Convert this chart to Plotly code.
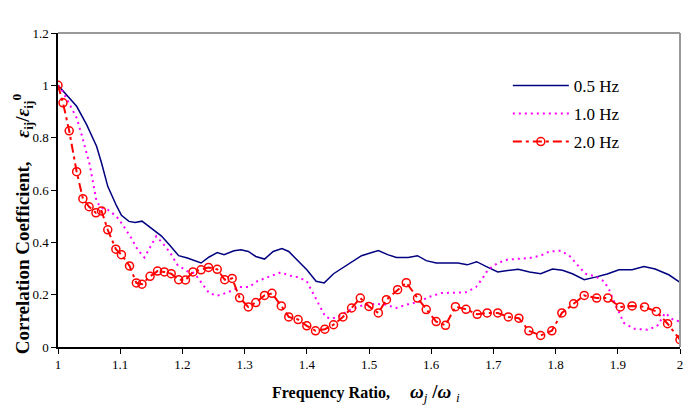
import plotly.graph_objects as go

# ---- data ----
x_05 = [1.000, 1.030, 1.046, 1.062, 1.070, 1.080, 1.094, 1.102, 1.114, 1.124, 1.135, 1.150, 1.166,
        1.179, 1.194, 1.208, 1.230, 1.243, 1.256, 1.267, 1.283, 1.294, 1.306, 1.318, 1.332, 1.346,
        1.360, 1.371, 1.387, 1.400, 1.415, 1.428, 1.443, 1.458, 1.472, 1.488, 1.502, 1.515, 1.530,
        1.544, 1.563, 1.578, 1.592, 1.608, 1.627, 1.643, 1.658, 1.673, 1.688, 1.707, 1.723, 1.740,
        1.758, 1.776, 1.795, 1.811, 1.827, 1.846, 1.864, 1.883, 1.902, 1.923, 1.942, 1.960, 1.982, 2.000]
y_05 = [1.000, 0.920, 0.850, 0.767, 0.703, 0.614, 0.540, 0.503, 0.480, 0.476, 0.481, 0.455, 0.425,
        0.391, 0.349, 0.340, 0.321, 0.344, 0.361, 0.353, 0.368, 0.372, 0.365, 0.346, 0.336, 0.365,
        0.376, 0.365, 0.327, 0.295, 0.251, 0.245, 0.280, 0.302, 0.323, 0.349, 0.359, 0.369, 0.353,
        0.342, 0.342, 0.349, 0.330, 0.321, 0.321, 0.321, 0.314, 0.326, 0.308, 0.287, 0.292, 0.297,
        0.287, 0.280, 0.298, 0.293, 0.280, 0.257, 0.267, 0.279, 0.295, 0.295, 0.308, 0.298, 0.276, 0.247]

x_10 = [1.000, 1.006, 1.019, 1.030, 1.038, 1.046, 1.051, 1.056, 1.062, 1.070, 1.080, 1.094, 1.104,
        1.118, 1.128, 1.139, 1.150, 1.158, 1.168, 1.179, 1.192, 1.208, 1.219, 1.230, 1.243, 1.256,
        1.267, 1.283, 1.291, 1.307, 1.320, 1.334, 1.347, 1.358, 1.374, 1.387, 1.400, 1.411, 1.422,
        1.430, 1.440, 1.451, 1.468, 1.488, 1.510, 1.526, 1.544, 1.560, 1.582, 1.595, 1.616, 1.638,
        1.656, 1.672, 1.683, 1.691, 1.707, 1.723, 1.742, 1.758, 1.776, 1.790, 1.808, 1.822, 1.835,
        1.848, 1.864, 1.878, 1.886, 1.896, 1.910, 1.926, 1.947, 1.963, 1.976, 1.990, 2.000]
y_10 = [1.000, 0.983, 0.926, 0.875, 0.811, 0.747, 0.697, 0.633, 0.556, 0.531, 0.525, 0.499, 0.467,
        0.416, 0.372, 0.342, 0.391, 0.423, 0.397, 0.365, 0.314, 0.289, 0.283, 0.248, 0.206, 0.196,
        0.204, 0.219, 0.229, 0.229, 0.251, 0.264, 0.276, 0.285, 0.272, 0.266, 0.251, 0.200, 0.149,
        0.115, 0.108, 0.117, 0.140, 0.158, 0.165, 0.162, 0.149, 0.162, 0.174, 0.190, 0.206, 0.209,
        0.209, 0.229, 0.264, 0.295, 0.321, 0.334, 0.336, 0.340, 0.349, 0.365, 0.368, 0.349, 0.314,
        0.280, 0.270, 0.251, 0.219, 0.162, 0.092, 0.070, 0.066, 0.079, 0.130, 0.102, 0.098]

x_20 = [1.000, 1.008, 1.018, 1.030, 1.040, 1.050, 1.061, 1.070, 1.080, 1.093, 1.102, 1.115, 1.126,
        1.135, 1.148, 1.160, 1.171, 1.182, 1.194, 1.205, 1.217, 1.230, 1.242, 1.256, 1.268, 1.280,
        1.292, 1.306, 1.318, 1.332, 1.344, 1.359, 1.371, 1.386, 1.400, 1.414, 1.429, 1.443, 1.458,
        1.472, 1.486, 1.500, 1.515, 1.528, 1.546, 1.560, 1.578, 1.592, 1.608, 1.623, 1.639, 1.656,
        1.674, 1.690, 1.707, 1.724, 1.741, 1.757, 1.776, 1.794, 1.810, 1.829, 1.846, 1.866, 1.884,
        1.904, 1.923, 1.943, 1.962, 1.980, 2.000]
y_20 = [1.000, 0.933, 0.826, 0.670, 0.567, 0.536, 0.513, 0.520, 0.448, 0.374, 0.353, 0.310, 0.245,
        0.240, 0.270, 0.290, 0.287, 0.280, 0.257, 0.256, 0.287, 0.295, 0.304, 0.297, 0.257, 0.262,
        0.188, 0.153, 0.170, 0.197, 0.205, 0.157, 0.115, 0.105, 0.081, 0.062, 0.068, 0.085, 0.115,
        0.149, 0.187, 0.155, 0.130, 0.181, 0.219, 0.246, 0.187, 0.143, 0.097, 0.083, 0.154, 0.144,
        0.125, 0.130, 0.130, 0.115, 0.110, 0.062, 0.044, 0.062, 0.130, 0.165, 0.197, 0.187, 0.187,
        0.153, 0.157, 0.153, 0.136, 0.089, 0.028]

names = ["0.5 Hz", "1.0 Hz", "2.0 Hz"]
x_ticks = [1, 1.1, 1.2, 1.3, 1.4, 1.5, 1.6, 1.7, 1.8, 1.9, 2]
y_ticks = [0, 0.2, 0.4, 0.6, 0.8, 1, 1.2]

FONT = "Liberation Serif, Times New Roman, serif"

fig = go.Figure()
fig.add_trace(go.Scatter(x=x_05, y=y_05, mode="lines", name=names[0], legend="legend",
                         line=dict(color="#000080", width=1.5)))
fig.add_trace(go.Scatter(x=x_10, y=y_10, mode="lines", name=names[1], legend="legend2",
                         line=dict(color="#FF00FF", width=2, dash="2px,4px")))
fig.add_trace(go.Scatter(x=x_20, y=y_20, mode="lines+markers", name=names[2], legend="legend3",
                         line=dict(color="#FF0000", width=2, dash="9px,4px,3px,4px"),
                         marker=dict(symbol="circle-open", size=8, color="#FF0000",
                                     line=dict(width=1.5, color="#FF0000"))))

L, R, T, B = 58, 7, 33, 73
W, H = 690, 420
ph = H - T - B
pw = W - L - R

def py(p):
    return (H - B - p) / ph

def px(p):
    return (p - L) / pw

leg_common = dict(font=dict(family=FONT, size=17, color="black"), bgcolor="rgba(0,0,0,0)",
                  borderwidth=0, itemwidth=56, xanchor="left", yanchor="middle",
                  x=px(510), visible=True)

fig.update_layout(
    width=W, height=H,
    margin=dict(l=L, r=R, t=T, b=B),
    paper_bgcolor="white", plot_bgcolor="white",
    showlegend=True,
    font=dict(family=FONT, size=13, color="black"),
    legend=dict(**leg_common, y=py(86)),
    legend2=dict(**leg_common, y=py(114)),
    legend3=dict(**leg_common, y=py(142)),
    xaxis=dict(range=[1, 2], tickvals=x_ticks, ticktext=[str(v) for v in x_ticks],
               showline=True, linecolor="black", linewidth=1.5, ticks="outside", ticklen=5,
               tickcolor="black", showgrid=False, zeroline=False,
               tickfont=dict(family=FONT, size=13)),
    yaxis=dict(range=[0, 1.2], tickvals=y_ticks, ticktext=[str(v) for v in y_ticks],
               showline=True, linecolor="black", linewidth=1.5, ticks="outside", ticklen=5,
               tickcolor="black", showgrid=False, zeroline=False,
               tickfont=dict(family=FONT, size=13)),
    shapes=[
        dict(type="line", xref="paper", yref="paper", x0=0, x1=1, y0=1, y1=1,
             line=dict(color="#999999", width=2)),
        dict(type="line", xref="paper", yref="paper", x0=1, x1=1, y0=0, y1=1,
             line=dict(color="#999999", width=2)),
    ],
    annotations=[
        dict(xref="paper", yref="paper", x=px(22), y=py(224),
             textangle=-90, showarrow=False, xanchor="center", yanchor="middle",
             font=dict(family=FONT, size=19, color="black"),
             text="<b>Correlation Coefficient,\u00a0\u00a0\u00a0\u00a0\u00a0<i>ε</i><sub>ij</sub>/<i>ε</i><sub>ij</sub><sup>0</sup></b>"),
        dict(xref="paper", yref="paper", x=px(271), y=py(393),
             showarrow=False, xanchor="left", yanchor="middle",
             font=dict(family=FONT, size=16, color="black"),
             text="<b>Frequency Ratio,</b>"),
        dict(xref="paper", yref="paper", x=px(410), y=py(393),
             showarrow=False, xanchor="left", yanchor="middle",
             font=dict(family=FONT, size=19, color="black"),
             text="<b><i>ω</i></b><sub><i>j</i></sub>\u00a0<b>/</b><b><i>ω</i></b>\u00a0<sub><i>i</i></sub>"),
    ],
)

fig.write_html("out.html")
